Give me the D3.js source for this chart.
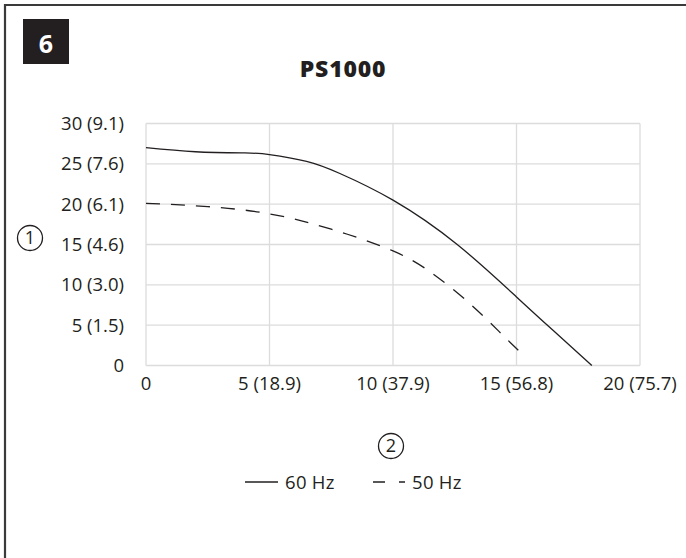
<!DOCTYPE html>
<html>
<head>
<meta charset="utf-8">
<script src="https://cdn.jsdelivr.net/npm/d3@7"></script>
<style>
  html, body { margin: 0; padding: 0; background: #fff; }
  svg { display: block; }
  text { font-family: "Open Sans", "Noto Sans", sans-serif; fill: #231f20; }
</style>
</head>
<body>
<svg id="chart" width="686" height="558"></svg>
<script>
// Pump performance curve: head vs. flow
const title = "PS1000";
const panelNumber = "6";

// Flow (x) and head (y) points for each supply frequency
const flow60 = [0, 2, 4, 5, 6.5, 7.85, 10, 12.6, 15, 16.5, 18.05];
const head60 = [27.0, 26.5, 26.35, 26.15, 25.3, 23.8, 20.5, 15.0, 8.5, 4.3, 0];

const flow50 = [0, 2.5, 5, 7.5, 10, 11.6, 13.1, 14.3, 15.1];
const head50 = [20.1, 19.7, 18.8, 16.9, 14.2, 11.4, 7.7, 4.2, 1.8];

const xTicks = [0, 5, 10, 15, 20];
const xTickLabels = ["0", "5 (18.9)", "10 (37.9)", "15 (56.8)", "20 (75.7)"];
const yTicks = [0, 5, 10, 15, 20, 25, 30];
const yTickLabels = ["0", "5 (1.5)", "10 (3.0)", "15 (4.6)", "20 (6.1)", "25 (7.6)", "30 (9.1)"];

const seriesNames = ["60 Hz", "50 Hz"];

const svg = d3.select("#chart");

const x = d3.scaleLinear().domain([0, 20]).range([146, 640]);
const y = d3.scaleLinear().domain([0, 30]).range([365.5, 123.5]);

// Frame: top and left rules
svg.append("line").attr("x1", 5).attr("x2", 686).attr("y1", 5).attr("y2", 5)
  .attr("stroke", "#3a3a3a").attr("stroke-width", 2.2);
svg.append("line").attr("x1", 5).attr("x2", 5).attr("y1", 4).attr("y2", 558)
  .attr("stroke", "#3a3a3a").attr("stroke-width", 2.2);

// Panel number badge
svg.append("rect").attr("x", 23).attr("y", 19).attr("width", 46).attr("height", 45).attr("fill", "#231f20");
svg.append("text").attr("x", 46).attr("y", 53).attr("text-anchor", "middle")
  .style("fill", "#fff").style("font-weight", 700).style("font-size", "25px").text(panelNumber);

// Title
svg.append("text").attr("x", 343).attr("y", 77).attr("text-anchor", "middle")
  .style("font-weight", 800).style("font-size", "23px").style("letter-spacing", "0.8px").text(title);

// Grid
const grid = svg.append("g").attr("stroke", "#dcdcdc").attr("stroke-width", 1.3);
grid.selectAll("line.h").data(yTicks).join("line").attr("class", "h")
  .attr("x1", x(0)).attr("x2", x(20)).attr("y1", d => y(d)).attr("y2", d => y(d));
grid.selectAll("line.v").data(xTicks).join("line").attr("class", "v")
  .attr("x1", d => x(d)).attr("x2", d => x(d)).attr("y1", y(0)).attr("y2", y(30));

// Y tick labels
svg.append("g").selectAll("text").data(yTicks).join("text")
  .attr("x", 124).attr("y", d => y(d)).attr("dy", "0.35em").attr("text-anchor", "end")
  .style("font-size", "18.5px").text((d, i) => yTickLabels[i]);

// X tick labels, centred under each grid line
svg.append("g").selectAll("text").data(xTicks).join("text")
  .attr("x", d => x(d)).attr("y", 390).attr("text-anchor", "middle")
  .style("font-size", "18.5px").text((d, i) => xTickLabels[i]);

// Circled axis markers
function circled(cx, cy, label) {
  svg.append("circle").attr("cx", cx).attr("cy", cy).attr("r", 12.5)
    .attr("fill", "none").attr("stroke", "#231f20").attr("stroke-width", 1.3);
  svg.append("text").attr("x", cx).attr("y", cy).attr("dy", "0.36em").attr("text-anchor", "middle")
    .style("font-size", "18px").text(label);
}
circled(30, 238, "1");
circled(391, 446, "2");

// Curves: natural cubic spline through the read points
const line = d3.line().x(d => x(d[0])).y(d => y(d[1])).curve(d3.curveNatural);
svg.append("path").datum(d3.zip(flow60, head60)).attr("d", line)
  .attr("fill", "none").attr("stroke", "#231f20").attr("stroke-width", 1.3);
svg.append("path").datum(d3.zip(flow50, head50)).attr("d", line)
  .attr("fill", "none").attr("stroke", "#231f20").attr("stroke-width", 1.3)
  .attr("stroke-dasharray", "14,11");

// Legend
const lg = svg.append("g");
lg.append("line").attr("x1", 245).attr("x2", 278).attr("y1", 482).attr("y2", 482)
  .attr("stroke", "#231f20").attr("stroke-width", 1.3);
lg.append("text").attr("x", 285).attr("y", 488.5).style("font-size", "18.5px").style("letter-spacing", "0.3px").text(seriesNames[0]);
lg.append("line").attr("x1", 373).attr("x2", 405).attr("y1", 482).attr("y2", 482)
  .attr("stroke", "#231f20").attr("stroke-width", 1.3).attr("stroke-dasharray", "12,14");
lg.append("text").attr("x", 412).attr("y", 488.5).style("font-size", "18.5px").style("letter-spacing", "0.3px").text(seriesNames[1]);
</script>
</body>
</html>
